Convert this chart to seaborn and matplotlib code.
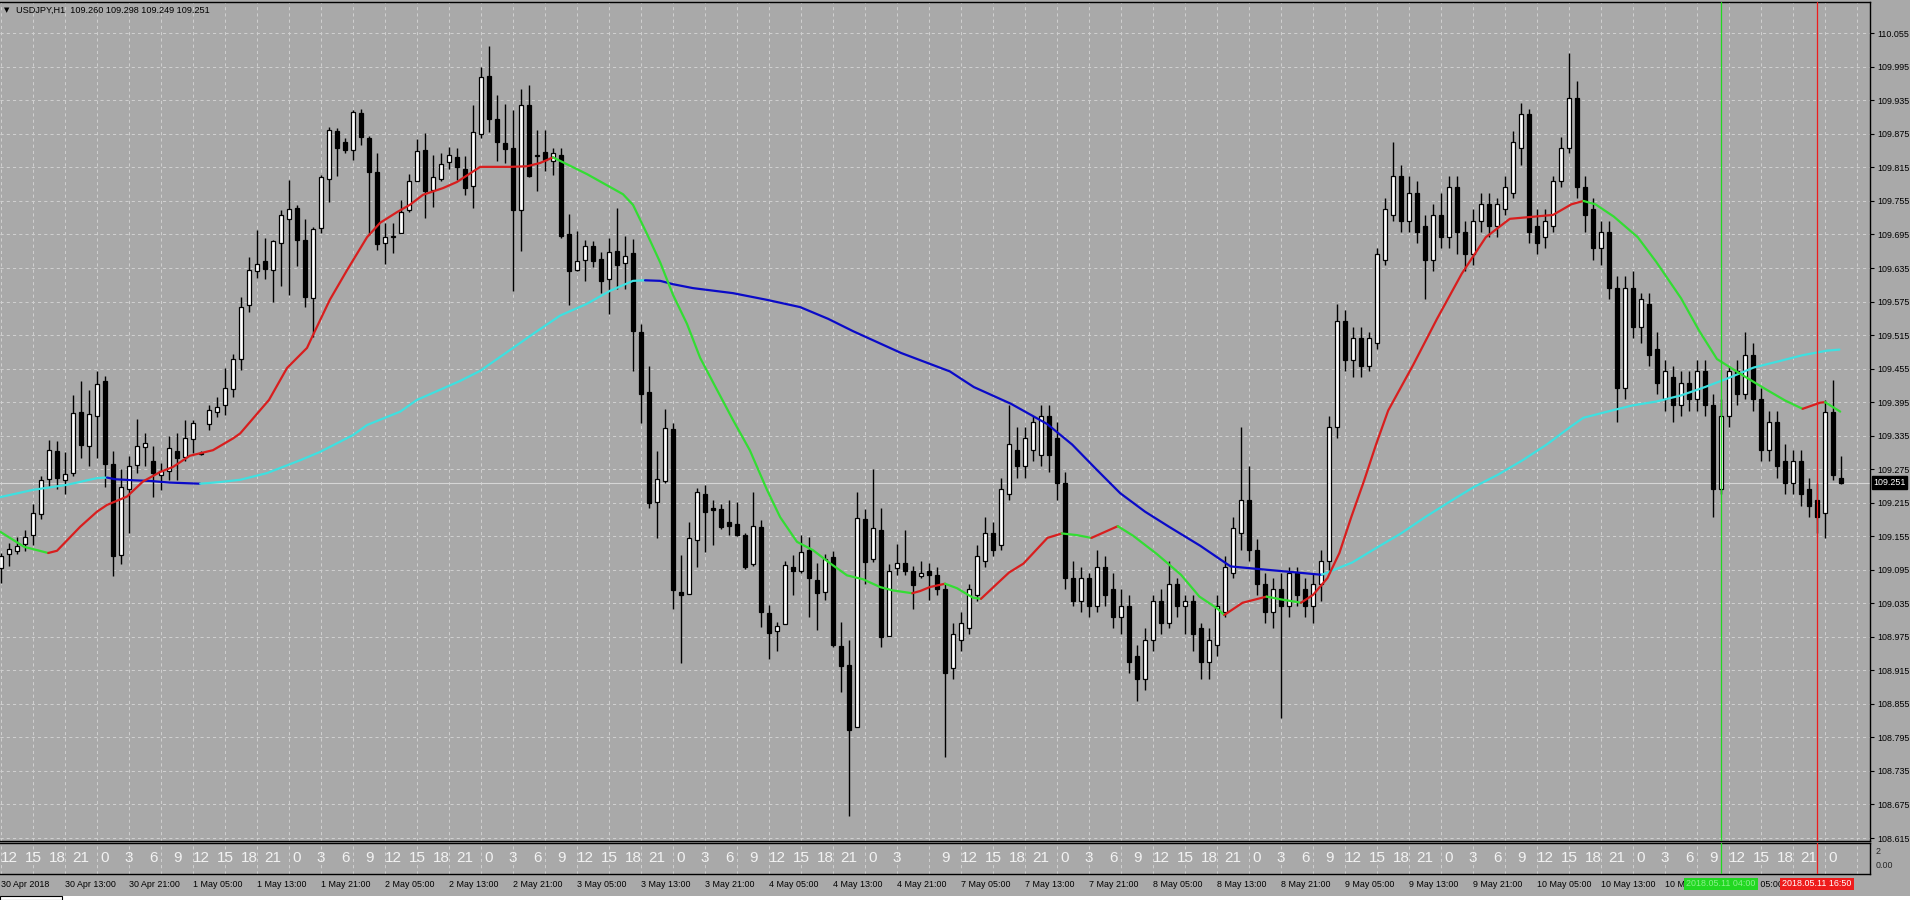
import numpy as np
import pandas as pd
import matplotlib
matplotlib.use("Agg")
import matplotlib.pyplot as plt
from matplotlib import font_manager
from matplotlib.patches import Rectangle
import seaborn as sns

# ---------------- data ----------------
symbol = "USDJPY"
timeframe = "H1"
first_bar_time = "2018-04-30 05:00"
last_bar_time = "2018-05-11 19:00"
local_hour_offset = 6

opens = [109.098, 109.124, 109.129, 109.141, 109.158, 109.195, 109.257, 109.307, 109.256, 109.269,
         109.378, 109.316, 109.371, 109.432, 109.285, 109.122, 109.239, 109.283, 109.314, 109.290,
         109.265, 109.271, 109.308, 109.296, 109.329, 109.302, 109.356, 109.378, 109.390, 109.418,
         109.472, 109.568, 109.630, 109.648, 109.631, 109.679, 109.722, 109.742, 109.685, 109.581,
         109.706, 109.795, 109.881, 109.861, 109.847, 109.912, 109.867, 109.806, 109.679, 109.690,
         109.697, 109.738, 109.790, 109.846, 109.775, 109.795, 109.824, 109.834, 109.813, 109.781,
         109.875, 109.978, 109.902, 109.858, 109.850, 109.738, 109.926, 109.835, 109.842, 109.826,
         109.837, 109.696, 109.632, 109.650, 109.674, 109.652, 109.615, 109.665, 109.644, 109.661,
         109.520, 109.413, 109.217, 109.254, 109.347, 109.055, 109.051, 109.148, 109.231, 109.205,
         109.203, 109.180, 109.177, 109.157, 109.105, 109.171, 109.017, 108.986, 108.998, 109.100,
         109.093, 109.130, 109.077, 109.056, 109.117, 108.959, 108.925, 108.814, 109.185, 109.114,
         109.166, 108.976, 109.098, 109.108, 109.092, 109.084, 109.092, 109.086, 109.060, 108.920,
         108.970, 108.990, 109.050, 109.110, 109.160, 109.140, 109.230, 109.310, 109.280, 109.310,
         109.300, 109.370, 109.330, 109.250, 109.080, 109.040, 109.080, 109.030, 109.100, 109.060,
         109.010, 109.030, 108.940, 108.900, 108.970, 109.040, 109.000, 109.070, 109.030, 109.040,
         108.990, 108.930, 108.960, 109.020, 109.090, 109.160, 109.220, 109.130, 109.070, 109.020,
         109.060, 109.030, 109.090, 109.060, 109.030, 109.070, 109.110, 109.350, 109.540, 109.470,
         109.510, 109.460, 109.500, 109.650, 109.730, 109.800, 109.720, 109.770, 109.710, 109.650,
         109.730, 109.690, 109.780, 109.700, 109.660, 109.720, 109.750, 109.710, 109.740, 109.770,
         109.850, 109.910, 109.710, 109.690, 109.710, 109.790, 109.850, 109.940, 109.780, 109.740,
         109.670, 109.700, 109.600, 109.420, 109.600, 109.530, 109.570, 109.490, 109.400, 109.440,
         109.390, 109.430, 109.400, 109.450, 109.390, 109.240, 109.370, 109.450, 109.410, 109.480,
         109.400, 109.310, 109.360, 109.290, 109.250, 109.290, 109.240, 109.220, 109.196, 109.378,
         109.260]
highs = [109.125, 109.143, 109.153, 109.167, 109.213, 109.263, 109.327, 109.326, 109.305, 109.408,
         109.432, 109.416, 109.451, 109.441, 109.307, 109.275, 109.298, 109.364, 109.339, 109.317,
         109.286, 109.335, 109.339, 109.363, 109.363, 109.307, 109.390, 109.404, 109.456, 109.482,
         109.584, 109.654, 109.703, 109.688, 109.686, 109.739, 109.792, 109.748, 109.722, 109.709,
         109.801, 109.887, 109.885, 109.867, 109.918, 109.919, 109.871, 109.840, 109.715, 109.715,
         109.757, 109.804, 109.865, 109.876, 109.837, 109.840, 109.851, 109.849, 109.835, 109.926,
         109.994, 110.033, 109.944, 109.928, 109.918, 109.955, 109.962, 109.882, 109.882, 109.849,
         109.849, 109.732, 109.702, 109.685, 109.683, 109.663, 109.688, 109.743, 109.692, 109.687,
         109.534, 109.460, 109.307, 109.382, 109.358, 109.122, 109.181, 109.241, 109.247, 109.220,
         109.213, 109.219, 109.217, 109.161, 109.235, 109.184, 109.032, 109.002, 109.110, 109.121,
         109.157, 109.154, 109.108, 109.124, 109.129, 109.002, 108.970, 109.235, 109.203, 109.275,
         109.205, 109.106, 109.142, 109.167, 109.101, 109.110, 109.108, 109.100, 109.070, 109.000,
         109.020, 109.070, 109.140, 109.190, 109.180, 109.260, 109.390, 109.350, 109.350, 109.370,
         109.390, 109.390, 109.360, 109.270, 109.110, 109.100, 109.090, 109.130, 109.120, 109.090,
         109.060, 109.050, 108.960, 108.990, 109.050, 109.060, 109.110, 109.080, 109.050, 109.050,
         109.000, 108.990, 109.050, 109.120, 109.190, 109.350, 109.280, 109.150, 109.090, 109.080,
         109.090, 109.100, 109.100, 109.080, 109.090, 109.130, 109.370, 109.570, 109.560, 109.530,
         109.530, 109.520, 109.670, 109.760, 109.860, 109.820, 109.800, 109.790, 109.730, 109.750,
         109.770, 109.800, 109.800, 109.720, 109.740, 109.770, 109.770, 109.760, 109.800, 109.880,
         109.930, 109.920, 109.740, 109.740, 109.800, 109.870, 110.020, 109.970, 109.800, 109.760,
         109.720, 109.720, 109.620, 109.620, 109.630, 109.590, 109.590, 109.520, 109.470, 109.460,
         109.450, 109.450, 109.470, 109.470, 109.410, 109.400, 109.460, 109.470, 109.520, 109.500,
         109.420, 109.380, 109.380, 109.320, 109.310, 109.310, 109.260, 109.250, 109.399, 109.435,
         109.298]
lows = [109.071, 109.101, 109.124, 109.128, 109.140, 109.186, 109.244, 109.239, 109.231, 109.262,
        109.295, 109.281, 109.295, 109.244, 109.084, 109.106, 109.161, 109.268, 109.280, 109.226,
        109.238, 109.256, 109.256, 109.289, 109.304, 109.300, 109.345, 109.369, 109.372, 109.405,
        109.452, 109.557, 109.618, 109.615, 109.575, 109.603, 109.587, 109.639, 109.566, 109.512,
        109.697, 109.754, 109.800, 109.840, 109.829, 109.855, 109.694, 109.668, 109.643, 109.662,
        109.697, 109.736, 109.790, 109.724, 109.745, 109.790, 109.813, 109.792, 109.765, 109.743,
        109.868, 109.878, 109.827, 109.823, 109.593, 109.666, 109.797, 109.772, 109.809, 109.802,
        109.688, 109.568, 109.630, 109.612, 109.637, 109.590, 109.553, 109.597, 109.597, 109.451,
        109.358, 109.205, 109.151, 109.250, 109.025, 108.929, 109.051, 109.100, 109.126, 109.140,
        109.168, 109.157, 109.155, 109.096, 109.102, 108.992, 108.935, 108.950, 108.998, 109.050,
        109.090, 109.010, 108.988, 109.041, 108.957, 108.877, 108.655, 108.814, 109.069, 109.109,
        108.957, 108.976, 109.086, 109.086, 109.024, 109.080, 109.041, 109.050, 108.760, 108.900,
        108.950, 108.980, 109.040, 109.100, 109.120, 109.130, 109.220, 109.260, 109.260, 109.290,
        109.280, 109.270, 109.220, 109.060, 109.030, 109.020, 109.010, 109.020, 109.030, 108.990,
        108.980, 108.910, 108.860, 108.880, 108.950, 108.980, 108.990, 109.010, 108.980, 108.950,
        108.900, 108.900, 108.940, 109.010, 109.080, 109.130, 109.110, 109.050, 109.000, 108.990,
        108.830, 109.010, 109.030, 109.010, 109.000, 109.040, 109.090, 109.330, 109.450, 109.440,
        109.440, 109.450, 109.490, 109.640, 109.720, 109.700, 109.700, 109.680, 109.580, 109.630,
        109.670, 109.670, 109.660, 109.630, 109.640, 109.700, 109.690, 109.690, 109.730, 109.760,
        109.820, 109.680, 109.660, 109.670, 109.700, 109.780, 109.840, 109.760, 109.700, 109.650,
        109.640, 109.580, 109.360, 109.400, 109.510, 109.500, 109.460, 109.410, 109.380, 109.360,
        109.370, 109.380, 109.380, 109.370, 109.190, 109.230, 109.350, 109.390, 109.400, 109.380,
        109.290, 109.290, 109.260, 109.230, 109.230, 109.210, 109.190, 109.160, 109.152, 109.255,
        109.249]
closes = [109.119, 109.132, 109.138, 109.153, 109.196, 109.256, 109.310, 109.259, 109.267, 109.375,
          109.319, 109.374, 109.428, 109.285, 109.120, 109.244, 109.281, 109.317, 109.321, 109.268,
          109.271, 109.313, 109.295, 109.330, 109.358, 109.304, 109.381, 109.386, 109.420, 109.473,
          109.566, 109.631, 109.643, 109.633, 109.683, 109.730, 109.740, 109.686, 109.584, 109.704,
          109.798, 109.882, 109.849, 109.847, 109.915, 109.870, 109.807, 109.678, 109.691, 109.693,
          109.736, 109.791, 109.844, 109.772, 109.798, 109.822, 109.838, 109.815, 109.778, 109.878,
          109.977, 109.902, 109.860, 109.848, 109.739, 109.926, 109.799, 109.837, 109.829, 109.840,
          109.692, 109.630, 109.647, 109.674, 109.648, 109.612, 109.663, 109.641, 109.657, 109.523,
          109.409, 109.214, 109.257, 109.349, 109.058, 109.049, 109.151, 109.235, 109.199, 109.202,
          109.171, 109.173, 109.157, 109.100, 109.174, 109.020, 108.982, 108.995, 109.104, 109.092,
          109.126, 109.080, 109.054, 109.114, 108.960, 108.922, 108.808, 109.187, 109.109, 109.169,
          108.974, 109.093, 109.107, 109.093, 109.068, 109.090, 109.086, 109.060, 108.910, 108.980,
          109.000, 109.060, 109.120, 109.160, 109.130, 109.240, 109.320, 109.280, 109.330, 109.360,
          109.370, 109.300, 109.250, 109.080, 109.040, 109.080, 109.030, 109.100, 109.050, 109.010,
          109.030, 108.930, 108.900, 108.970, 109.040, 109.000, 109.070, 109.030, 109.040, 108.980,
          108.930, 108.970, 109.030, 109.100, 109.170, 109.220, 109.130, 109.070, 109.020, 109.060,
          109.030, 109.090, 109.050, 109.030, 109.070, 109.110, 109.350, 109.540, 109.470, 109.510,
          109.460, 109.510, 109.660, 109.740, 109.800, 109.720, 109.770, 109.700, 109.650, 109.730,
          109.690, 109.780, 109.700, 109.660, 109.720, 109.750, 109.710, 109.750, 109.780, 109.860,
          109.910, 109.700, 109.680, 109.720, 109.790, 109.850, 109.940, 109.780, 109.730, 109.670,
          109.700, 109.600, 109.420, 109.600, 109.530, 109.580, 109.480, 109.430, 109.450, 109.390,
          109.430, 109.400, 109.450, 109.390, 109.240, 109.370, 109.450, 109.410, 109.480, 109.400,
          109.310, 109.360, 109.280, 109.250, 109.290, 109.230, 109.210, 109.190, 109.378, 109.265,
          109.251]

# fast moving average (red rising / green falling), read as knots (bar index, price)
fast_ma_bar = [-0.1, 2.9, 5.9, 7.0, 9.9, 12.0, 13.25, 15.75, 17.75, 19.9, 21.5, 23.6, 26.5, 29.0, 29.9,
               33.5, 35.75, 38.25, 39.0, 41.1, 43.25, 45.75, 47.4, 49.5, 51.1, 52.75, 55.25, 57.0, 59.9,
               62.0, 63.6, 65.75, 67.4, 69.0, 73.25, 77.75, 79.0, 80.75, 82.4, 84.0, 85.75, 87.4, 89.5,
               91.5, 93.6, 95.75, 97.4, 99.5, 101.5, 103.6, 105.75, 107.75, 109.9, 111.5, 113.9, 114.9,
               116.1, 118.0, 119.5, 121.5, 122.5, 124.5, 126.0, 127.8, 130.8, 132.6, 134.5, 136.3, 139.6,
               141.5, 144.5, 147.5, 149.8, 152.1, 152.9, 155.2, 158.2, 160.0, 162.5, 164.0, 165.8, 167.3,
               168.8, 170.4, 171.9, 173.4, 176.5, 179.5, 182.6, 185.6, 188.6, 191.7, 194.0, 196.3, 197.8,
               199.3, 201.6, 204.6, 206.9, 210.0, 212.3, 214.5, 217.6, 220.6, 223.0, 225.2, 227.4, 228.0,
               229.9]
fast_ma_val = [109.163, 109.136, 109.125, 109.129, 109.172, 109.199, 109.211, 109.226, 109.253, 109.270,
               109.279, 109.299, 109.309, 109.330, 109.339, 109.399, 109.456, 109.492, 109.515, 109.578,
               109.631, 109.690, 109.716, 109.735, 109.748, 109.766, 109.778, 109.789, 109.816, 109.816,
               109.816, 109.817, 109.823, 109.833, 109.803, 109.767, 109.748, 109.696, 109.645, 109.587,
               109.535, 109.474, 109.417, 109.363, 109.309, 109.238, 109.189, 109.145, 109.130, 109.107,
               109.085, 109.078, 109.064, 109.058, 109.053, 109.057, 109.064, 109.070, 109.062, 109.045,
               109.043, 109.070, 109.090, 109.106, 109.152, 109.160, 109.157, 109.152, 109.173, 109.156,
               109.123, 109.086, 109.047, 109.025, 109.014, 109.036, 109.047, 109.042, 109.036, 109.050,
               109.080, 109.125, 109.190, 109.255, 109.320, 109.380, 109.461, 109.544, 109.625, 109.690,
               109.723, 109.727, 109.730, 109.749, 109.755, 109.749, 109.727, 109.690, 109.646, 109.581,
               109.522, 109.472, 109.444, 109.418, 109.398, 109.383, 109.394, 109.395, 109.378]

# slow moving average (cyan rising / blue falling)
slow_ma_bar = [-0.1, 4.0, 8.25, 12.0, 13.25, 14.25, 16.75, 18.6, 21.1, 24.9, 27.4, 29.9, 33.25, 37.4, 39.9,
               44.0, 45.75, 49.9, 52.0, 57.4, 59.9, 63.6, 66.5, 69.9, 73.25, 76.1, 79.0, 80.5, 82.4, 84.0,
               86.5, 91.5, 95.75, 99.9, 103.4, 106.5, 112.5, 118.6, 121.6, 126.25, 130.75, 133.9, 136.9,
               139.9, 143.0, 146.0, 149.9, 153.7, 156.7, 161.3, 165.1, 168.9, 171.9, 175.0, 178.0, 181.1,
               184.1, 187.1, 190.2, 193.2, 196.3, 197.8, 200.8, 203.9, 206.9, 210.0, 213.0, 216.1, 219.1,
               222.2, 225.2, 228.2, 229.8]
slow_ma_val = [109.225, 109.238, 109.247, 109.259, 109.260, 109.257, 109.255, 109.254, 109.251, 109.249,
               109.252, 109.256, 109.268, 109.291, 109.306, 109.336, 109.354, 109.378, 109.399, 109.433,
               109.451, 109.488, 109.517, 109.550, 109.571, 109.594, 109.612, 109.613, 109.612, 109.606,
               109.599, 109.590, 109.578, 109.565, 109.544, 109.522, 109.483, 109.450, 109.422, 109.392,
               109.356, 109.319, 109.275, 109.232, 109.199, 109.172, 109.138, 109.101, 109.097, 109.091,
               109.086, 109.108, 109.134, 109.160, 109.189, 109.217, 109.243, 109.265, 109.291, 109.319,
               109.352, 109.367, 109.378, 109.389, 109.396, 109.407, 109.422, 109.439, 109.457, 109.468,
               109.479, 109.487, 109.489]

price_tick_start = 108.615
price_tick_step = 0.06
price_tick_count = 25

marker_times = ["2018-05-11 04:00", "2018-05-11 16:50"]
marker_labels = ["2018.05.11 04:00", "2018.05.11 16:50"]
marker_colors = ["#22d822", "#ee1c1c"]
marker_text_colors = ["#8cf08c", "#ffffff"]

# ---------------- style ----------------
BG = "#a9a9a9"
GRID = "#cfcfcf"
sns.set_style("white", rc={"axes.facecolor": BG, "figure.facecolor": BG})
plt.rcParams["font.family"] = ["Liberation Sans", "DejaVu Sans"]

names = {f.name for f in font_manager.fontManager.ttflist}
narrow = "Liberation Sans Narrow" if "Liberation Sans Narrow" in names else "Liberation Sans"
hour_fs = 13 if narrow == "Liberation Sans Narrow" else 11

W, H = 1910, 900
fig = plt.figure(figsize=(W / 100, H / 100), dpi=100)
fig.patch.set_facecolor(BG)

right_px, top_px, main_bot_px = 1870, 2, 841
sub_top_px, sub_bot_px = 843, 874
ax = fig.add_axes([0, 1 - main_bot_px / H, right_px / W, (main_bot_px - top_px) / H])
ax2 = fig.add_axes([0, 1 - sub_bot_px / H, right_px / W, (sub_bot_px - sub_top_px) / H])
for a in (ax, ax2):
    a.set_facecolor(BG)
    for s in ("top", "right", "bottom"):
        a.spines[s].set_color("black")
        a.spines[s].set_linewidth(1.0)
    a.spines["left"].set_visible(False)

o = np.array(opens); h = np.array(highs); l = np.array(lows); c = np.array(closes)
n = len(o)
idx = np.arange(n)

rng = pd.date_range(first_bar_time, last_bar_time, freq="h")
times = rng[rng.dayofweek < 5][:n]

x_lo = -1 / 8
x_hi = x_lo + right_px / 8
ax.set_xlim(x_lo, x_hi)
ax2.set_xlim(x_lo, x_hi)

ticks = [round(price_tick_start + price_tick_step * k, 3) for k in range(price_tick_count)]
y_lo = price_tick_start - (main_bot_px - 838) * price_tick_step / 33.53
y_hi = ticks[-1] + (33.3 - top_px) * price_tick_step / 33.53
ax.set_ylim(y_lo, y_hi)
ax.set_yticks(ticks)
ax.set_yticklabels([f"{t:.3f}" for t in ticks])
ax.yaxis.tick_right()
ax.tick_params(axis="y", which="major", right=True, left=False, labelright=True, labelleft=False,
               length=3, width=0.8, color="black", pad=2, labelsize=6.4, labelcolor="black", direction="out")

major_x = list(range(0, int(x_hi) + 1, 8))
minor_x = list(range(4, int(x_hi) + 1, 8))
ax.set_xticks(major_x)
ax.set_xticks(minor_x, minor=True)
ax.tick_params(axis="x", which="both", length=0, labelbottom=False)
grid_kw = dict(color=GRID, linestyle=(0, (3, 3)), linewidth=0.75)
ax.grid(True, which="major", axis="both", **grid_kw)
ax.grid(True, which="minor", axis="x", **grid_kw)
ax.set_axisbelow(True)

# current price line
ax.axhline(c[-1], color="#d6d6d6", lw=0.8, zorder=1.5)

# candles
ax.vlines(idx, l, h, color="black", lw=1.0, zorder=3)
up = c >= o
body_w = 0.62
ax.bar(idx[up], np.maximum(c[up] - o[up], 0.0005), bottom=o[up], width=body_w,
       color="white", edgecolor="black", linewidth=0.9, zorder=3.5)
ax.bar(idx[~up], o[~up] - c[~up], bottom=c[~up], width=body_w,
       color="black", edgecolor="black", linewidth=0.9, zorder=3.5)


def draw_ma(axis, bars, vals, up_color, down_color, lw):
    bars = np.asarray(bars, dtype=float)
    vals = np.asarray(vals, dtype=float)
    d = np.diff(vals)
    cols = np.where(d >= 0, up_color, down_color)
    start = 0
    for k in range(1, len(d) + 1):
        if k == len(d) or cols[k] != cols[start]:
            seg = pd.DataFrame({"bar": bars[start:k + 1], "val": vals[start:k + 1]})
            sns.lineplot(data=seg, x="bar", y="val", ax=axis, color=cols[start], lw=lw,
                         sort=False, estimator=None, legend=False, zorder=5)
            start = k


draw_ma(ax, slow_ma_bar, slow_ma_val, "#3fe0e0", "#0a0ac8", 1.6)
draw_ma(ax, fast_ma_bar, fast_ma_val, "#d81e1e", "#33dd33", 1.6)
ax.set_xlabel("")
ax.set_ylabel("")
ax.set_xlim(x_lo, x_hi)
ax.set_ylim(y_lo, y_hi)

# current price box
ax.annotate(f"{c[-1]:.3f}", xy=(1, c[-1]), xycoords=("axes fraction", "data"),
            xytext=(2.5, 0), textcoords="offset points", ha="left", va="center",
            color="white", fontsize=6.4,
            bbox=dict(boxstyle="square,pad=0.18", fc="black", ec="black"), annotation_clip=False)

# title
fig.text(4 / W, 1 - 10 / H, "\u25BC", fontsize=5, color="black", va="center", ha="left",
         family=["DejaVu Sans"])
fig.text(16 / W, 1 - 10 / H, f"{symbol},{timeframe}  {o[-1]:.3f} {h[-1]:.3f} {l[-1]:.3f} {c[-1]:.3f}",
         fontsize=6.6, color="black", va="center", ha="left")

# ---------------- hour sub-window ----------------
ax2.set_ylim(0, 1)
ax2.set_yticks([])
ax2.set_xticks(major_x)
ax2.set_xticks(minor_x, minor=True)
ax2.grid(True, which="both", axis="x", **grid_kw)
ax2.set_axisbelow(True)
tick_labels = []
for b in major_x:
    if b < n:
        t = times[b]
        tick_labels.append(f"{t.day} {t:%b} {t.year}" if b == 0 else f"{t.day} {t:%b} {t:%H:%M}")
    else:
        tick_labels.append("")
ax2.set_xticklabels(tick_labels, ha="left")
ax2.tick_params(axis="x", which="major", length=3, width=0.8, color="black", pad=1.5,
                labelsize=6.4, labelcolor="black", direction="out")
ax2.tick_params(axis="x", which="minor", length=0)

for i in range(n):
    if i > 0 and (times[i] - times[i - 1]) > pd.Timedelta(hours=1):
        continue
    hh = (times[i].hour + local_hour_offset) % 24
    if hh % 3 == 0:
        ax2.text(i, 0.5, str(hh), ha="center", va="center", color="#f2f2f2",
                 fontsize=hour_fs, family=[narrow, "DejaVu Sans"], zorder=4)

ax2.text(1.003, 0.72, "2", transform=ax2.transAxes, fontsize=6.4, va="center", ha="left")
ax2.text(1.003, 0.28, "0.00", transform=ax2.transAxes, fontsize=6.4, va="center", ha="left")

# vertical marker lines
for mt, lab, col, tcol in zip(marker_times, marker_labels, marker_colors, marker_text_colors):
    b = int(np.searchsorted(times.values, np.datetime64(pd.Timestamp(mt)), side="right") - 1)
    for a in (ax, ax2):
        a.axvline(b, color=col, lw=0.9, zorder=6)
    ax2.annotate(lab, xy=(b, 0), xycoords=("data", "axes fraction"), xytext=(0, -7.2),
                 textcoords="offset points", ha="center", va="center", fontsize=6.4, color=tcol,
                 bbox=dict(boxstyle="square,pad=0.22", fc=col, ec="none"), annotation_clip=False,
                 zorder=7)

# bottom strip
fig.patches.append(Rectangle((0, 0), 1, 4 / H, transform=fig.transFigure, fc="white", ec="none"))
fig.patches.append(Rectangle((0, 0), 62 / W, 4 / H, transform=fig.transFigure, fc="white",
                             ec="black", lw=0.8))

fig.savefig("out.png", dpi=100, facecolor=fig.get_facecolor())
